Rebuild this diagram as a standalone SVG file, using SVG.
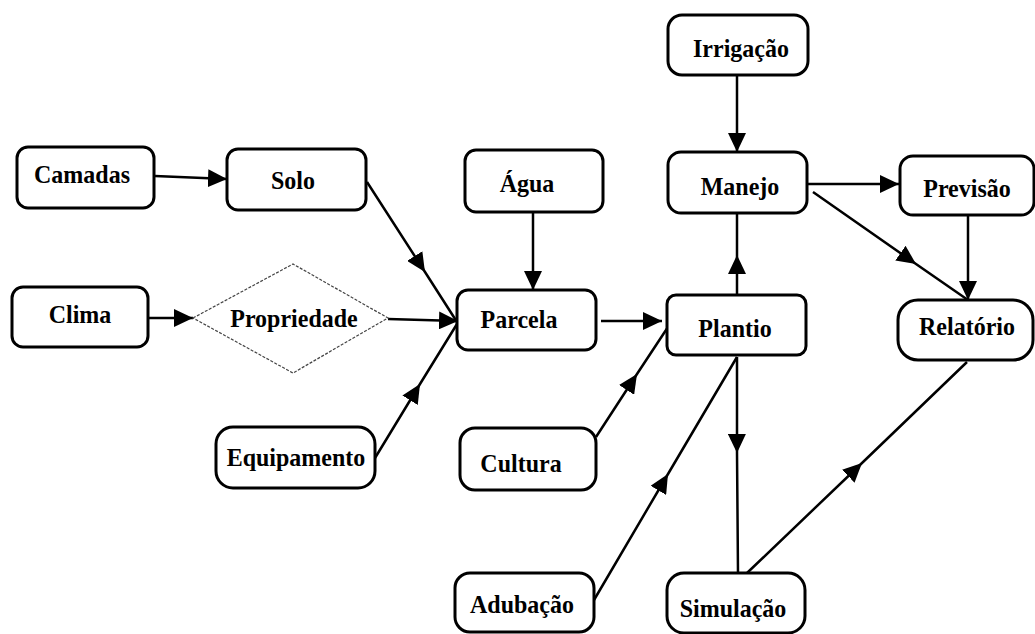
<svg xmlns="http://www.w3.org/2000/svg" width="1035" height="634" viewBox="0 0 1035 634">
<style>
.box{fill:#fff;stroke:#000;stroke-width:3}
.dia{fill:#fff;stroke:#444;stroke-width:1.2;stroke-dasharray:3 1.5}
.lbl{font-family:"Liberation Serif","Times New Roman",serif;font-weight:bold;font-size:24px;text-anchor:middle;fill:#000}
.c{fill:none;stroke:#000;stroke-width:2.5}
.e{marker-end:url(#ah)}
.m{marker-mid:url(#ah)}
</style>
<defs>
<marker id="ah" viewBox="0 0 19 18" refX="19" refY="9" markerWidth="19" markerHeight="18" markerUnits="userSpaceOnUse" orient="auto">
<path d="M0,0 L19,9 L0,18 z" fill="#000"/>
</marker>
</defs>
<rect width="1035" height="634" fill="#fff"/>
<g id="connectors">
<path class="c e" d="M155,176 L227,179"/>
<path class="c m" d="M367,182 L425,272 L457,322"/>
<path class="c e" d="M149,318 L193,318"/>
<path class="c e" d="M388,319 L458,321"/>
<path class="c m" d="M375,458 L420,384 L457,324"/>
<path class="c e" d="M533,212 L533,290"/>
<path class="c e" d="M601,321 L662,321"/>
<path class="c m" d="M596,437 L637,374 L668,327"/>
<path class="c m" d="M594,600 L668,474 L737,357"/>
<path class="c m" d="M737,295 L737,255 L737,214"/>
<path class="c e" d="M737,75 L737,152"/>
<path class="c e" d="M808,184 L899,184"/>
<path class="c m" d="M813,192 L916,264 L968,300"/>
<path class="c e" d="M968,215 L968,300"/>
<path class="c m" d="M737,357 L737,453 L738,573"/>
<path class="c m" d="M747,573 L862,463 L967,362"/>
</g>
<g id="n-camadas"><rect class="box" x="17" y="147" width="137" height="61" rx="11"/><text class="lbl" transform="translate(82 183) scale(1 1.08)">Camadas</text></g>
<g id="n-solo"><rect class="box" x="227" y="149" width="139" height="61" rx="11"/><text class="lbl" transform="translate(293 189) scale(1 1.08)">Solo</text></g>
<g id="n-agua"><rect class="box" x="465" y="150" width="138" height="62" rx="11"/><text class="lbl" transform="translate(527 192) scale(1 1.08)">Água</text></g>
<g id="n-irrigacao"><rect class="box" x="668" y="15" width="140" height="60" rx="14"/><text class="lbl" transform="translate(741 57) scale(1 1.08)">Irrigação</text></g>
<g id="n-manejo"><rect class="box" x="668" y="152" width="139" height="61" rx="13"/><text class="lbl" transform="translate(740 195) scale(1 1.08)">Manejo</text></g>
<g id="n-previsao"><rect class="box" x="900" y="156" width="134" height="59" rx="13"/><text class="lbl" transform="translate(967 197) scale(1 1.08)">Previsão</text></g>
<g id="n-clima"><rect class="box" x="12" y="287" width="136" height="60" rx="11"/><text class="lbl" transform="translate(80 323) scale(1 1.08)">Clima</text></g>
<g id="n-propriedade"><polygon class="dia" points="193,318 293,264 388,318 293,373"/><text class="lbl" transform="translate(294 327) scale(1 1.08)">Propriedade</text></g>
<g id="n-parcela"><rect class="box" x="457" y="290" width="139" height="60" rx="11"/><text class="lbl" transform="translate(519 328) scale(1 1.08)">Parcela</text></g>
<g id="n-plantio"><rect class="box" x="667" y="295" width="139" height="60" rx="9"/><text class="lbl" transform="translate(735 337) scale(1 1.08)">Plantio</text></g>
<g id="n-relatorio"><rect class="box" x="898" y="300" width="135" height="60" rx="20"/><text class="lbl" transform="translate(967 335) scale(1 1.08)">Relatório</text></g>
<g id="n-equipamento"><rect class="box" x="216" y="427" width="159" height="61" rx="17"/><text class="lbl" transform="translate(296 466) scale(1 1.08)">Equipamento</text></g>
<g id="n-cultura"><rect class="box" x="460" y="428" width="136" height="62" rx="15"/><text class="lbl" transform="translate(521 472) scale(1 1.08)">Cultura</text></g>
<g id="n-adubacao"><rect class="box" x="455" y="573" width="139" height="59" rx="15"/><text class="lbl" transform="translate(522 613) scale(1 1.08)">Adubação</text></g>
<g id="n-simulacao"><rect class="box" x="667" y="573" width="138" height="60" rx="17"/><text class="lbl" transform="translate(733 617) scale(1 1.08)">Simulação</text></g>
</svg>
